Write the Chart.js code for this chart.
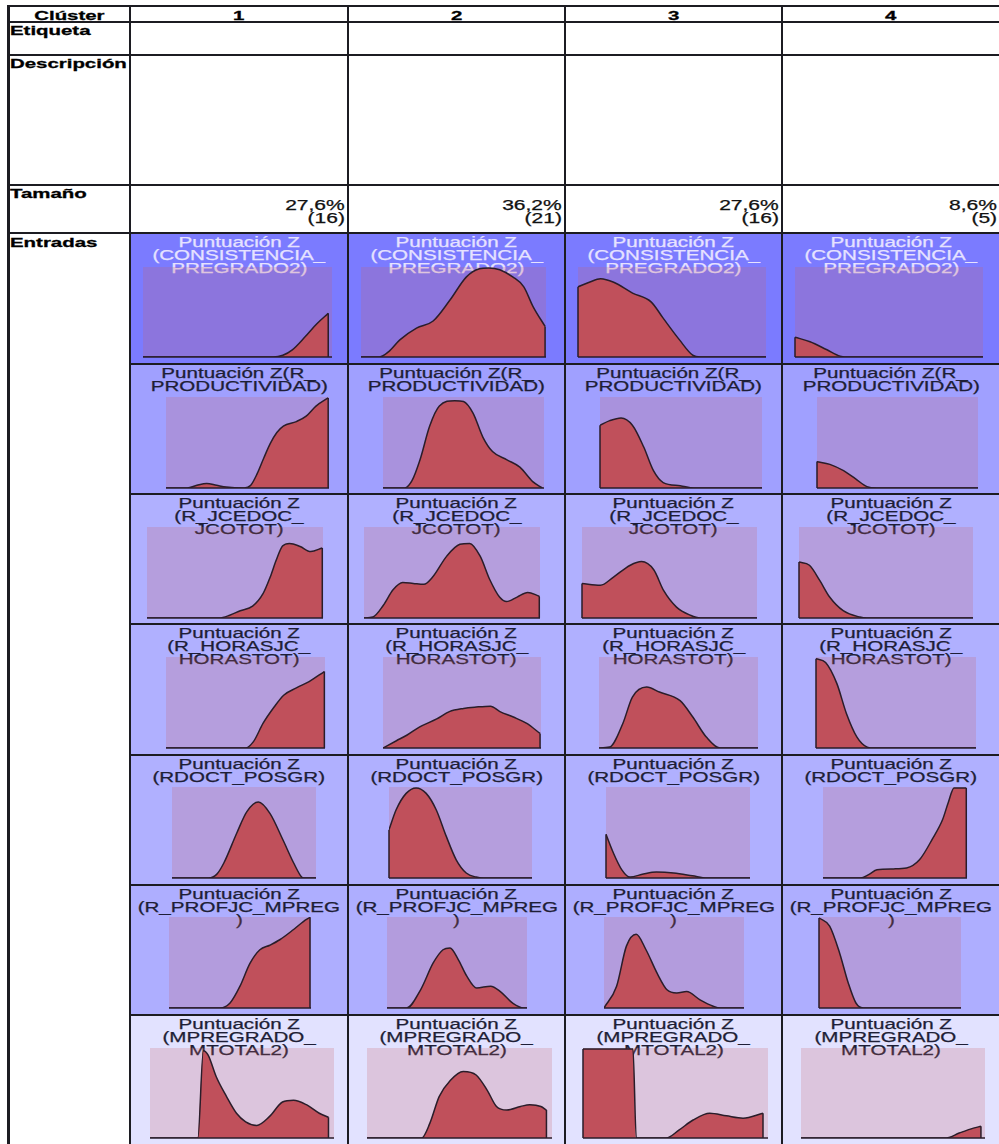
<!DOCTYPE html>
<html>
<head>
<meta charset="utf-8">
<title>Clústeres</title>
<script src="https://cdn.jsdelivr.net/npm/chart.js@4.4.0/dist/chart.umd.min.js"></script>
<style>
  html, body { margin: 0; padding: 0; background: #fff; overflow: hidden; }
  #page { position: relative; width: 999px; height: 1144px; overflow: hidden; font-family: "Liberation Sans", Arial, sans-serif; }
  .bg { position: absolute; z-index: 0; }
  .ln { position: absolute; background: #1c1c22; z-index: 4; }
  .lbl { position: absolute; z-index: 3; font-weight: bold; font-size: 13px; line-height: 13px; white-space: nowrap; color: #000; transform-origin: left center; transform: scaleX(1.57); -webkit-text-stroke: 0.3px #000; }
  .hdr { position: absolute; z-index: 3; font-weight: bold; font-size: 13px; line-height: 13px; text-align: center; white-space: nowrap; -webkit-text-stroke: 0.3px #000; }
  .hdr span { display: inline-block; transform: scaleX(1.57); }
  .num { position: absolute; z-index: 3; font-size: 14px; line-height: 13px; text-align: right; white-space: nowrap; color: #111; -webkit-text-stroke: 0.25px #111; }
  .num span { display: inline-block; transform-origin: right center; transform: scaleX(1.5); }
  .tit { position: absolute; z-index: 1; font-size: 14px; line-height: 13px; text-align: center; white-space: nowrap; -webkit-text-stroke: 0.25px currentColor; }
  .tit span { display: inline-block; transform: scaleX(1.47); }
  canvas.mini { position: absolute; z-index: 2; }
</style>
</head>
<body>
<div id="page"></div>
<script>
// Resumen de clústeres – densidades por variable de entrada

var CLUSTERS = ['1', '2', '3', '4'];
var ROW_LABELS = ['Etiqueta', 'Descripción', 'Tamaño', 'Entradas'];
var TAMANO_PCT = ['27,6%', '36,2%', '27,6%', '8,6%'];
var TAMANO_N = ['(16)', '(21)', '(16)', '(5)'];

var TITULOS = [
  ['Puntuación Z', '(CONSISTENCIA_', 'PREGRADO2)'],
  ['Puntuación Z(R_', 'PRODUCTIVIDAD)'],
  ['Puntuación Z', '(R_JCEDOC_', 'JCOTOT)'],
  ['Puntuación Z', '(R_HORASJC_', 'HORASTOT)'],
  ['Puntuación Z', '(RDOCT_POSGR)'],
  ['Puntuación Z', '(R_PROFJC_MPREG', ')'],
  ['Puntuación Z', '(MPREGRADO_', 'MTOTAL2)']
];

// [posición en el eje (0-100), densidad relativa (0-100)] por clúster
var densConsistencia = [
  [[0,0],[62,0],[69,0],[74,2],[79,8],[86,23],[92,37],[98,48.5]],
  [[0,0],[10,0],[15,6],[21,19],[30,32],[39,40],[48,63],[57,89],[64,98],[69,99],[75,97],[82,89],[88,78],[93,56],[99.5,34]],
  [[0,78],[6,83],[12,87],[19,83],[29,71],[39,61],[45,44],[54,19],[61,2],[65,0],[100,0]],
  [[0,22],[8,17],[17,8],[24,1],[29,0],[100,0]]
];
var densProductividad = [
  [[0,0],[13,0],[19,3],[25,5],[31,3],[37,1],[48,0],[52,3],[56,16],[60,33],[64,49],[68,61],[72,68],[80,73],[86,79],[92,90],[99.5,99]],
  [[0,0],[13.5,0],[18,8],[23,31],[29,68],[35,90],[44.5,96],[50,95],[56,82],[62,56],[68,40],[77,31],[85,23],[93,7],[99,0]],
  [[0,69],[6,74],[13,77],[20,69],[27,45],[33,19],[39,6],[49.5,2.6],[58,0],[100,0]],
  [[0,29],[8,26],[16.5,19],[24,10],[31,1.5],[37,0],[100,0]]
];
var densJcedoc = [
  [[0,0],[41,0],[47,3],[53,8],[60,13],[66,27],[70,45],[73.5,64],[77,79],[81,82],[87,78.6],[93,73],[99.6,77]],
  [[0,0],[5,1],[11,14],[16.5,31],[22,39],[28,38],[34,37],[39,45],[47,68],[54.5,81],[60,82],[66,68],[71.5,42],[77,23],[81,18],[87,23],[93,28],[99.6,24]],
  [[0,38],[10.5,36],[18,45],[27.6,58],[34,62],[41,53],[46.7,30],[54,12],[62,3],[67.6,0],[100,0]],
  [[0,61.5],[6,58],[12,41],[17.6,23],[25.4,8],[35,1],[39,0],[100,0]]
];
var densHorasjc = [
  [[0,0],[50,0],[55,7],[61,27],[68,45],[74,58],[82,66],[90,73],[99.6,84]],
  [[0,0],[8.5,8],[15,14],[23,23],[34,32],[42,40],[51,43.5],[59,45],[68,46],[74,40],[82.5,34],[91,27],[99.4,16]],
  [[0,0],[6.7,1],[15,27],[21,56],[30,67],[38,61.5],[51,52],[59,34],[67.5,12],[76,0],[100,0]],
  [[0,98],[6,94],[13,71],[19,38],[25.6,12],[32,1],[36,0],[100,0]]
];
var densRdoct = [
  [[0,0],[25.5,0],[31,4],[36,16.5],[45,49.5],[52,73],[60,83.5],[68,71],[77,42],[84.5,16.5],[90,1],[91.4,0],[100,0]],
  [[0,53],[5,75],[12,93],[19,99],[26,93],[33,75],[40,46],[47,20],[54,5.5],[61,1],[66,0],[100,0]],
  [[0,48],[5,28],[11,9],[16.7,1],[26,4.4],[35,6.5],[47,5.5],[60,2.5],[70,0],[100,0]],
  [[0,0],[26,0],[32,4],[37.5,9],[49,10],[58,11],[67,20],[76,43],[83,64],[87,83],[91,99],[99.5,99]]
];
var densProfjc = [
  [[0,0],[36,0],[43,5.5],[50,24],[57,49],[64,64],[71,69],[78,75],[87.5,86],[94.6,95],[99.3,99.6]],
  [[0,0],[14,0],[24,20],[33,49.5],[40,64],[45,66],[51,53],[57,35],[64,22],[74,24],[81,18],[90,5],[97.6,0],[100,0]],
  [[0,0],[9,24],[16,68],[23,81],[30,64],[38,38],[45,20],[52,16.5],[59,18],[68.6,9],[78,2],[83,0],[100,0]],
  [[0,99],[7.5,90],[14.6,60],[20.5,28],[26,5.5],[31,0],[100,0]]
];
var densMpregrado = [
  [[0,0],[26,0],[29,97],[31.6,92],[36,68],[41.6,46],[47,27.5],[52,18],[58,14],[65,24],[72,40],[78,42],[85,37],[92,27.5],[97,23]],
  [[0,0],[29.5,0],[34,16.5],[39,46],[45,64],[52,74],[59,70],[65,53],[70,35],[75.6,31],[83,35],[88,37],[94,35],[97,31]],
  [[0,99],[27,99],[28.8,0],[45,0],[52,9],[59.5,20],[68.5,27.5],[77.5,24.6],[86.5,22],[97.3,27.5]],
  [[0,0],[79,0],[86,5.5],[93.7,11],[97.8,13]]
];

var DENSIDADES = [densConsistencia, densProductividad, densJcedoc, densHorasjc, densRdoct, densProfjc, densMpregrado];

// geometría de la tabla (px de página)
var COL_X = [130, 348, 565, 782, 1000];
var ROW_Y = [233, 364, 494, 624, 755, 885, 1015, 1146];
var CELL_BG = ['#7b7bff', '#a0a0ff', '#b0b0ff', '#b0b0ff', '#b0b0ff', '#aeaeff', '#e2e2ff'];
var TITLE_COLOR = ['#e6e2ff', '#1e1e36', '#1e1e36', '#1e1e36', '#1e1e36', '#1e1e36', '#1e1e36'];
var RECT_Y = [[267,357],[397,488],[527,618],[657,748],[787,878],[917,1008],[1048,1138]];
var RECT_X = [
  [[143,332],[361,546],[578,766],[795,983]],
  [[166,329],[383,544],[600,762],[817,978]],
  [[147,323],[364,540],[582,757],[799,973]],
  [[166,325],[383,541],[599,758],[816,976]],
  [[172,316],[389,532],[606,750],[823,967]],
  [[169,311],[387,527],[604,744],[819,961]],
  [[150,334],[367,552],[583,768],[801,985]]
];

var INK = '#2a1d2a';

var rectPlugin = {
  id: 'rectFondo',
  beforeDatasetsDraw: function (chart) {
    var a = chart.chartArea, ctx = chart.ctx;
    ctx.save();
    ctx.fillStyle = 'rgba(200,95,100,0.22)';
    ctx.fillRect(a.left, a.top, a.right - a.left, a.bottom - a.top);
    ctx.restore();
  },
  afterDatasetsDraw: function (chart) {
    var a = chart.chartArea, ctx = chart.ctx;
    var meta = chart.getDatasetMeta(0);
    var y0 = chart.scales.y.getPixelForValue(0);
    var first = meta.data[0], last = meta.data[meta.data.length - 1];
    ctx.save();
    ctx.strokeStyle = INK;
    ctx.lineWidth = 1.5;
    ctx.beginPath();
    ctx.moveTo(a.left, y0);
    ctx.lineTo(a.right, y0);
    if (first.y < y0 - 0.5) { ctx.moveTo(first.x, y0); ctx.lineTo(first.x, first.y); }
    if (last.y < y0 - 0.5) { ctx.moveTo(last.x, y0); ctx.lineTo(last.x, last.y); }
    ctx.stroke();
    ctx.restore();
  }
};

function hLine(x1, x2, y, h) {
  return '<div class="ln" style="left:' + x1 + 'px;top:' + y + 'px;width:' + (x2 - x1) + 'px;height:' + h + 'px;"></div>';
}
function vLine(x, y1, y2, w) {
  return '<div class="ln" style="left:' + x + 'px;top:' + y1 + 'px;width:' + w + 'px;height:' + (y2 - y1) + 'px;"></div>';
}

function render() {
  var html = '';

  // cabecera y etiquetas de filas
  html += '<div class="hdr" style="left:10px;top:9px;width:119px;"><span>Clúster</span></div>';
  CLUSTERS.forEach(function (c, i) {
    html += '<div class="hdr" style="left:' + COL_X[i] + 'px;top:9px;width:' + (COL_X[i + 1] - COL_X[i]) + 'px;"><span>' + c + '</span></div>';
  });
  var labelTop = [24, 57, 187, 236];
  ROW_LABELS.forEach(function (l, i) {
    html += '<div class="lbl" style="left:10px;top:' + labelTop[i] + 'px;">' + l + '</div>';
  });

  // tamaño
  CLUSTERS.forEach(function (c, i) {
    var w = COL_X[i + 1] - COL_X[i] - 3;
    html += '<div class="num" style="left:' + COL_X[i] + 'px;top:199px;width:' + w + 'px;"><span>' + TAMANO_PCT[i] + '</span></div>';
    html += '<div class="num" style="left:' + COL_X[i] + 'px;top:212px;width:' + w + 'px;"><span>' + TAMANO_N[i] + '</span></div>';
  });

  // celdas de entradas: fondo + título + lienzo
  TITULOS.forEach(function (lines, r) {
    CLUSTERS.forEach(function (c, k) {
      var x = COL_X[k], y = ROW_Y[r], w = COL_X[k + 1] - x, h = ROW_Y[r + 1] - y;
      html += '<div class="bg" style="left:' + x + 'px;top:' + y + 'px;width:' + w + 'px;height:' + h + 'px;background:' + CELL_BG[r] + ';"></div>';
      html += '<div class="tit" style="left:' + x + 'px;top:' + (y + 3) + 'px;width:' + w + 'px;color:' + TITLE_COLOR[r] + ';">';
      lines.forEach(function (t) { html += '<div><span>' + t + '</span></div>'; });
      html += '</div>';
      html += '<canvas class="mini" id="cv-' + r + '-' + k + '" width="' + w + '" height="' + h + '" style="left:' + x + 'px;top:' + y + 'px;width:' + w + 'px;height:' + h + 'px;"></canvas>';
    });
  });

  // líneas de la tabla
  [5, 21, 54, 184, 232].forEach(function (y) { html += hLine(7, 1000, y, 2); });
  ROW_Y.slice(1, 7).forEach(function (y) { html += hLine(130, 1000, y - 1, 2); });
  html += vLine(7, 5, 1144, 3);
  COL_X.slice(0, 4).forEach(function (x) { html += vLine(x - 1, 5, 1144, 2); });

  document.getElementById('page').innerHTML = html;

  TITULOS.forEach(function (lines, r) {
    CLUSTERS.forEach(function (c, k) {
      drawDensity(r, k);
    });
  });
}

function drawDensity(r, k) {
  var canvas = document.getElementById('cv-' + r + '-' + k);
  var rx = RECT_X[r][k], ry = RECT_Y[r];
  var pts = DENSIDADES[r][k].map(function (p) { return { x: p[0], y: p[1] }; });
  new Chart(canvas.getContext('2d'), {
    type: 'line',
    data: {
      datasets: [{
        data: pts,
        fill: 'origin',
        backgroundColor: '#c0505b',
        borderColor: INK,
        borderWidth: 1.5,
        pointRadius: 0,
        cubicInterpolationMode: 'monotone'
      }]
    },
    options: {
      responsive: false,
      animation: false,
      events: [],
      layout: {
        padding: {
          left: rx[0] - COL_X[k],
          right: COL_X[k + 1] - rx[1],
          top: ry[0] - ROW_Y[r],
          bottom: ROW_Y[r + 1] - ry[1]
        }
      },
      plugins: { legend: { display: false }, tooltip: { enabled: false } },
      scales: {
        x: { type: 'linear', min: 0, max: 100, display: false },
        y: { min: 0, max: 100, display: false }
      }
    },
    plugins: [rectPlugin]
  });
}

render();
</script>
</body>
</html>
